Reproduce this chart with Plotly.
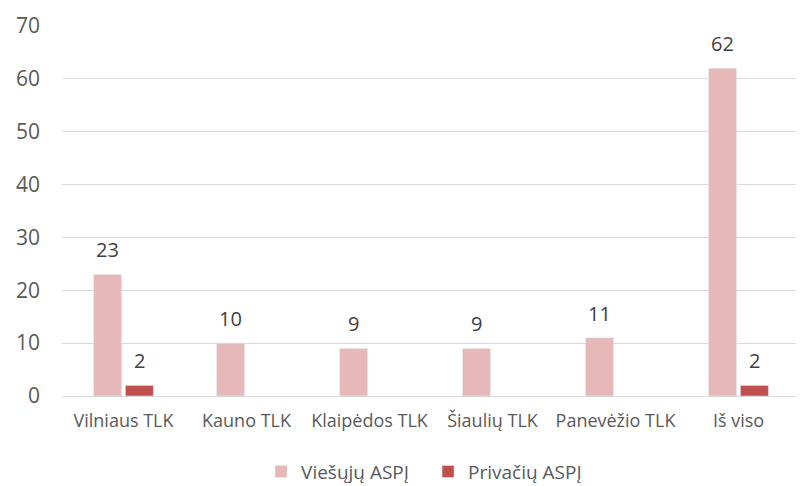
import plotly.graph_objects as go

categories = ["Vilniaus TLK", "Kauno TLK", "Klaipėdos TLK", "Šiaulių TLK", "Panevėžio TLK", "Iš viso"]
viesuju = [23, 10, 9, 9, 11, 62]
privaciu = [2, None, None, None, None, 2]
y_ticks = [0, 10, 20, 30, 40, 50, 60, 70]

fig = go.Figure()
fig.add_trace(go.Bar(x=categories, y=viesuju, name="Viešųjų ASPĮ", marker_color="#E6B9B8"))
fig.add_trace(go.Bar(x=categories, y=privaciu, name="Privačių ASPĮ", marker_color="#C0504D"))

annotations = []
for series, shift in ((viesuju, -16), (privaciu, 16)):
    for cat, val in zip(categories, series):
        if val is None:
            continue
        annotations.append(dict(x=cat, y=val, xref="x", yref="y", text=str(val), showarrow=False,
                                xshift=shift, yshift=9, yanchor="bottom",
                                font=dict(family="Open Sans", size=20, color="#404040")))

fig.update_layout(
    width=796, height=478,
    margin=dict(l=54, r=4, t=18, b=90, autoexpand=False),
    plot_bgcolor="white", paper_bgcolor="white",
    font=dict(family="Open Sans", color="#595959"),
    barmode="group", bargap=0.482, bargroupgap=0.12,
    showlegend=True,
    legend=dict(orientation="h", x=0.496, xanchor="center", yref="container", y=0.03, yanchor="middle",
                font=dict(size=19, color="#595959"), itemwidth=30, entrywidth=122, traceorder="normal"),
    xaxis=dict(showgrid=False, showline=True, linecolor="#D9D9D9", linewidth=1,
               tickfont=dict(size=18, color="#595959"), ticks="", automargin=False,
               ticklabelstandoff=8),
    yaxis=dict(range=[0, 70], tickvals=y_ticks, showgrid=True, gridcolor="#D9D9D9",
               tickfont=dict(size=21, color="#595959"), zeroline=False, ticks="",
               ticklabelstandoff=21, automargin=False),
    annotations=annotations,
)
fig.write_html("out.html")
